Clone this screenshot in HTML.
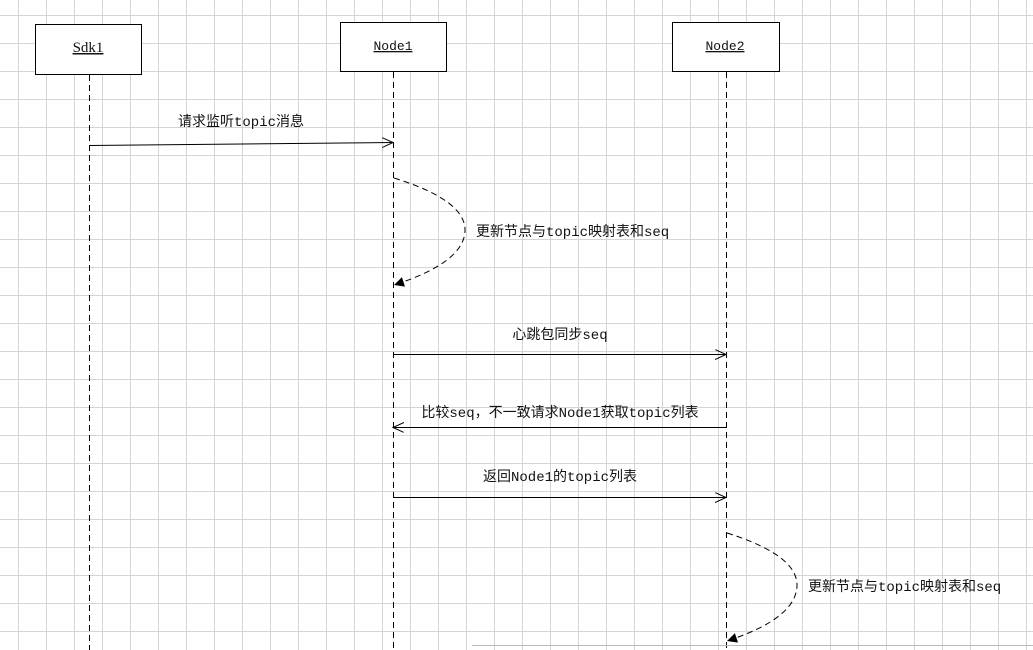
<!DOCTYPE html>
<html><head><meta charset="utf-8"><style>
html,body{margin:0;padding:0}
body{width:1033px;height:650px;overflow:hidden;background:#fff;
background-image:linear-gradient(to right,#d4d4d4 1px,transparent 1px),linear-gradient(to bottom,#d4d4d4 1px,transparent 1px);
background-size:28px 28px;background-position:18px 15px;}
svg{position:absolute;left:0;top:0}
text{font-family:"Liberation Mono","Noto Sans CJK SC",monospace;font-size:14px;fill:#111}
</style></head><body>
<svg width="1033" height="650" viewBox="0 0 1033 650">
<defs>
<marker id="o" markerWidth="12" markerHeight="12" refX="11" refY="5" orient="auto" markerUnits="userSpaceOnUse"><path d="M0,0 L11,5 L0,10" fill="none" stroke="#000" stroke-width="1"/></marker>
<marker id="f" markerWidth="12" markerHeight="12" refX="10" refY="5" orient="auto" markerUnits="userSpaceOnUse"><path d="M0,0 L10,5 L0,10 z" fill="#000"/></marker>
</defs>
<g stroke="#000" stroke-width="1" fill="#fff">
<rect x="35.5" y="24.5" width="106" height="50"/>
<rect x="340.5" y="22.5" width="106" height="49"/>
<rect x="672.5" y="22.5" width="107" height="49"/>
</g>
<g stroke="#000" stroke-width="1" stroke-dasharray="6,4">
<line x1="89.5" y1="75" x2="89.5" y2="650"/>
<line x1="393.5" y1="72" x2="393.5" y2="650"/>
<line x1="726.5" y1="72" x2="726.5" y2="650"/>
</g>
<text x="88" y="52" text-anchor="middle" font-family="Liberation Serif" style="font-family:'Liberation Serif',serif;font-size:15px" text-decoration="underline">Sdk1</text>
<text x="393" y="50" text-anchor="middle" text-decoration="underline" style="font-size:13px">Node1</text>
<text x="725" y="50" text-anchor="middle" text-decoration="underline" style="font-size:13px">Node2</text>
<g stroke="#000" stroke-width="1" fill="none">
<line x1="89" y1="145.5" x2="393" y2="142.5" marker-end="url(#o)"/>
<path d="M394,178 Q465,200 465,230 Q465,262 394,285" stroke-dasharray="6,4" marker-end="url(#f)"/>
<line x1="393" y1="354.5" x2="726" y2="354.5" marker-end="url(#o)"/>
<line x1="726" y1="427.5" x2="393" y2="427.5" marker-end="url(#o)"/>
<line x1="393" y1="497.5" x2="726" y2="497.5" marker-end="url(#o)"/>
<path d="M727,533 Q797,555 797,585 Q797,618 727,641" stroke-dasharray="6,4" marker-end="url(#f)"/>
</g>
<text x="241" y="126" text-anchor="middle">请求监听topic消息</text>
<text x="476" y="236">更新节点与topic映射表和seq</text>
<text x="560" y="339" text-anchor="middle">心跳包同步seq</text>
<text x="560" y="417" text-anchor="middle">比较seq，不一致请求Node1获取topic列表</text>
<text x="560" y="481" text-anchor="middle">返回Node1的topic列表</text>
<text x="808" y="591">更新节点与topic映射表和seq</text>
<line x1="472" y1="645.5" x2="1033" y2="645.5" stroke="#bbb"/>
</svg>
</body></html>
